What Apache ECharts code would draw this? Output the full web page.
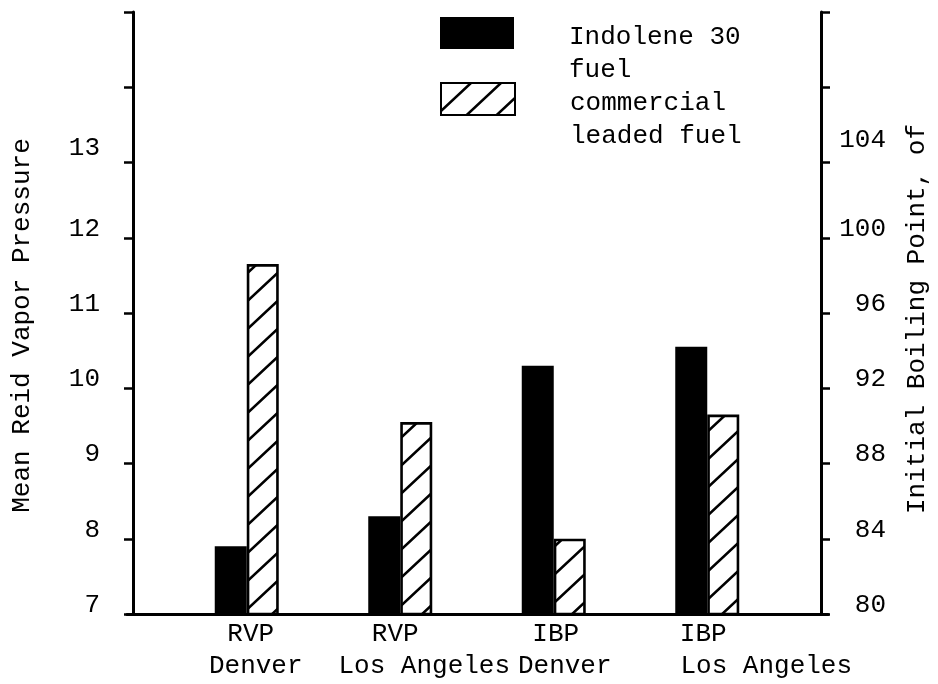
<!DOCTYPE html>
<html>
<head>
<meta charset="utf-8">
<title>Vapor pressure and initial boiling point</title>
<script src="https://cdn.jsdelivr.net/npm/echarts@6/dist/echarts.min.js"></script>
<style>
  html, body { margin: 0; padding: 0; background: #fff; }
  #chart { width: 938px; height: 684px; }
</style>
</head>
<body>
<div id="chart"></div>
<script>
// categories along the bottom (two text lines each)
var categories = ['RVP\nDenver', 'RVP\nLos Angeles', 'IBP\nDenver', 'IBP\nLos Angeles']
var seriesNames = ['Indolene 30\nfuel', 'commercial\nleaded fuel']

// RVP bars are read on the left axis, IBP bars on the right axis
var rvpIndolene = [7.9, 8.3, null, null]
var rvpCommercial = [11.65, 9.55, null, null]
var ibpIndolene = [null, null, 93.2, 94.2]
var ibpCommercial = [null, null, 84.0, 90.6]

// only these ticks carry a label, the axes run on past them
var rvpTicks = [7, 8, 9, 10, 11, 12, 13]
var ibpTicks = [80, 84, 88, 92, 96, 100, 104]

var FONT = 'Liberation Mono'
var txt = { fontFamily: FONT, fontSize: 26, color: '#000' }

// diagonal hatch for the commercial fuel bars
function hatchPattern() {
  var w = 30, h = 28
  var c = document.createElement('canvas')
  c.width = w
  c.height = h
  var ctx = c.getContext('2d')
  ctx.fillStyle = '#fff'
  ctx.fillRect(0, 0, w, h)
  ctx.strokeStyle = '#000'
  ctx.lineWidth = 2.6
  ctx.beginPath()
  for (var k = 0; k <= 2; k++) {
    ctx.moveTo(w * (k + 1), -h)
    ctx.lineTo(w * (k - 2), 2 * h)
  }
  ctx.stroke()
  return { image: c, repeat: 'repeat' }
}

var blackStyle = { color: '#000' }
var hatchStyle = { color: hatchPattern(), borderColor: '#000', borderWidth: 2.6 }

// per category shift of the two label lines (px, + = right)
var lineShift = [[4, 9], [-5, 24], [2, 11], [-4, 59]]
var rich = {}
lineShift.forEach(function (s, i) {
  rich['a' + i] = Object.assign({ lineHeight: 32 }, txt, {
    padding: s[0] > 0 ? [0, 0, 0, 2 * s[0]] : [0, -2 * s[0], 0, 0] })
  rich['b' + i] = Object.assign({ lineHeight: 32 }, txt, {
    padding: s[1] > 0 ? [0, 0, 0, 2 * s[1]] : [0, -2 * s[1], 0, 0] })
})

// typed tick labels sit a little above their ticks
function tickRich(topPad) {
  return {
    n: Object.assign({}, txt, { padding: [0, 0, 18, 0] }),
    u: Object.assign({}, txt, { padding: [0, 0, topPad, 0] })
  }
}

// legend: text hangs below the swatch top, one spacer line above it
var legendRich = {
  s: Object.assign({}, txt, { lineHeight: 42 }),
  t: Object.assign({}, txt, { lineHeight: 33, padding: [0, 0, 0, 50] })
}
function legendFormatter(name) {
  return '{s| }\n' + name.split('\n').map(function (l) { return '{t|' + l + '}' }).join('\n')
}

var myChart = echarts.init(document.getElementById('chart'))

var option = {
  animation: false,
  backgroundColor: '#fff',
  grid: [
    { left: 170, right: 152, top: 12, bottom: 70 },   // bars
    { left: 127, right: 110, top: 12, bottom: 70 }    // baseline only
  ],
  legend: [
    {
      data: [seriesNames[0]], left: 440, top: -13, padding: 0,
      icon: 'rect', itemWidth: 74, itemHeight: 32, selectedMode: false,
      formatter: legendFormatter,
      textStyle: Object.assign({}, txt, { rich: legendRich })
    },
    {
      data: [seriesNames[1]], left: 440, top: 53, padding: 0,
      icon: 'rect', itemWidth: 74, itemHeight: 32, selectedMode: false,
      formatter: legendFormatter,
      textStyle: Object.assign({}, txt, { rich: legendRich })
    }
  ],
  xAxis: [
    {
      gridIndex: 0,
      type: 'category',
      data: categories,
      axisLine: { show: false },
      axisTick: { show: false },
      axisLabel: {
        margin: 4,
        interval: 0,
        formatter: function (v, i) {
          var p = v.split('\n')
          return '{a' + i + '|' + p[0] + '}\n{b' + i + '|' + p[1] + '}'
        },
        rich: rich
      }
    },
    { gridIndex: 0, type: 'category', data: categories, show: false },
    {
      gridIndex: 1,
      type: 'value',
      min: 0,
      max: 1,
      axisLine: { show: true, onZero: false, lineStyle: { color: '#000', width: 3 } },
      axisTick: { show: false },
      axisLabel: { show: false },
      splitLine: { show: false }
    }
  ],
  yAxis: [
    {
      gridIndex: 0,
      type: 'value',
      position: 'left',
      offset: 37,
      min: 7,
      max: 15,
      interval: 1,
      name: 'Mean Reid Vapor Pressure',
      nameLocation: 'middle',
      nameRotate: 90,
      nameGap: 98,
      nameTextStyle: Object.assign({}, txt, { padding: [0, 25, 0, 0] }),
      axisLine: { show: true, onZero: false, lineStyle: { color: '#000', width: 3 } },
      axisTick: { show: true, length: 9, lineStyle: { color: '#000', width: 2.5 } },
      axisLabel: Object.assign({}, txt, {
        margin: 33,
        rich: tickRich(28),
        formatter: function (v) {
          if (rvpTicks.indexOf(v) < 0) return ''
          return (v === rvpTicks[rvpTicks.length - 1] ? '{u|' : '{n|') + v + '}'
        }
      }),
      splitLine: { show: false }
    },
    {
      gridIndex: 0,
      type: 'value',
      position: 'right',
      offset: 37,
      min: 80,
      max: 112,
      interval: 4,
      name: 'Initial Boiling Point, of',
      nameLocation: 'middle',
      nameRotate: 90,
      nameGap: 83,
      nameTextStyle: Object.assign({}, txt, { padding: [0, 12, 0, 0] }),
      axisLine: { show: true, onZero: false, lineStyle: { color: '#000', width: 3 } },
      axisTick: { show: true, length: 9, lineStyle: { color: '#000', width: 2.5 } },
      axisLabel: Object.assign({}, txt, {
        margin: 65,
        align: 'right',
        rich: tickRich(44),
        formatter: function (v) {
          if (ibpTicks.indexOf(v) < 0) return ''
          return (v === ibpTicks[ibpTicks.length - 1] ? '{u|' : '{n|') + v + '}'
        }
      }),
      splitLine: { show: false }
    },
    { gridIndex: 1, type: 'value', show: false }
  ],
  series: [
    {
      name: seriesNames[0], type: 'bar', xAxisIndex: 0, yAxisIndex: 0,
      barWidth: 32, barGap: '0%', itemStyle: blackStyle, data: rvpIndolene
    },
    {
      name: seriesNames[1], type: 'bar', xAxisIndex: 0, yAxisIndex: 0,
      barWidth: 32, barGap: '0%', itemStyle: hatchStyle, data: rvpCommercial
    },
    {
      name: seriesNames[0], type: 'bar', xAxisIndex: 1, yAxisIndex: 1,
      barWidth: 32, barGap: '0%', itemStyle: blackStyle, data: ibpIndolene
    },
    {
      name: seriesNames[1], type: 'bar', xAxisIndex: 1, yAxisIndex: 1,
      barWidth: 32, barGap: '0%', itemStyle: hatchStyle, data: ibpCommercial
    }
  ]
}

myChart.setOption(option)
</script>
</body>
</html>
